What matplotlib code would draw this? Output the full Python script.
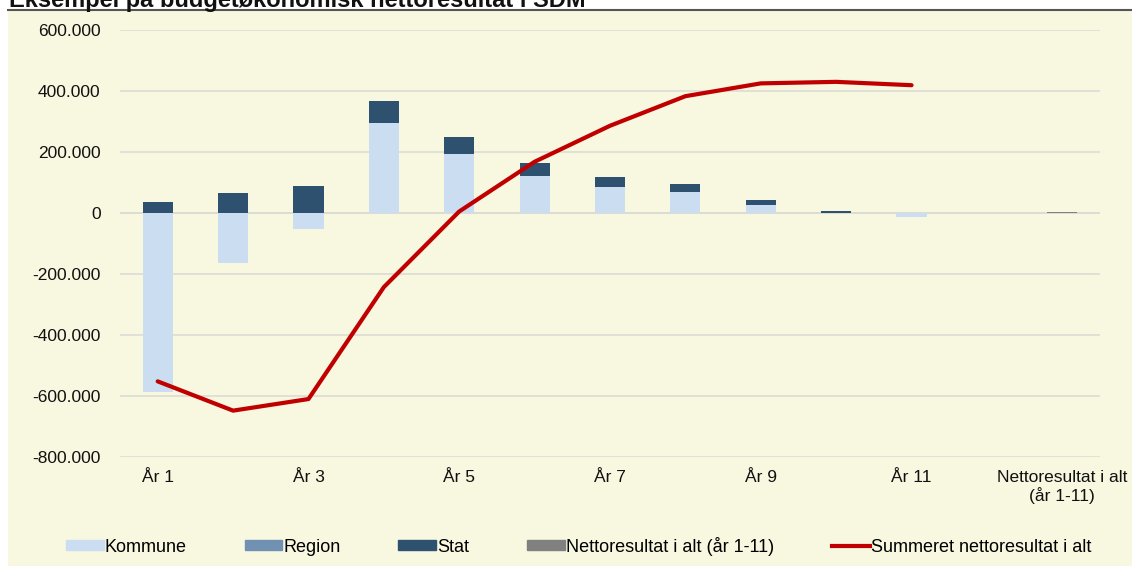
import numpy as np
import matplotlib.pyplot as plt
from matplotlib.patches import Rectangle, Patch
from matplotlib.lines import Line2D

plt.rcParams['font.family'] = ['Liberation Sans', 'DejaVu Sans']

# categories (13 slots, the 12th is empty)
labels = ['År 1', 'År 2', 'År 3', 'År 4', 'År 5', 'År 6', 'År 7', 'År 8', 'År 9', 'År 10',
          'År 11', '', 'Nettoresultat i alt\n(år 1-11)']
kommune = [-588000, -163000, -52000, 295000, 193000, 122000, 84000, 70000, 26000, 1000, -12000, 0, 0]
region = [0] * 13
stat = [36000, 66000, 88000, 72000, 56000, 42000, 33000, 25000, 15000, 4000, 0, 0, 0]
netto = [0] * 12 + [2000]
summeret = [-552000, -648000, -610000, -243000, 5000, 168000, 286000, 383000, 425000, 430000, 419000]

c_kom = '#CADDF1'
c_reg = '#7091B2'
c_stat = '#2E5170'
c_net = '#808080'
c_line = '#C00000'
bg = '#F8F7E0'

fig = plt.figure(figsize=(11.32, 5.70), dpi=100)
fig.patch.set_facecolor('white')
fig.patches.append(Rectangle((8 / 1132, 4 / 570), 1, 1 - 15 / 570, transform=fig.transFigure,
                             facecolor=bg, edgecolor='none', zorder=-5))
fig.add_artist(Line2D([8 / 1132, 1], [1 - 10 / 570, 1 - 10 / 570], transform=fig.transFigure,
                      color='#555555', lw=1.5))
fig.text(9 / 1132, 1 - 7 / 570, 'Eksempel på budgetøkonomisk nettoresultat i SDM',
         fontsize=17, fontweight='bold', va='baseline', ha='left', color='#111111')

ax = fig.add_axes([120 / 1132, 1 - 457 / 570, 980 / 1132, 427 / 570])
ax.set_facecolor('none')
ax.set_zorder(5)

x = np.arange(1, 14)
w = 0.4
kom = np.array(kommune, dtype=float)
st = np.array(stat, dtype=float)
# Excel-like stacking: positives on positives, negatives on negatives
pos_base = np.where(kom > 0, kom, 0)
ax.bar(x, kom, w, color=c_kom, zorder=2)
ax.bar(x, region, w, bottom=pos_base, color=c_reg, zorder=2)
ax.bar(x, st, w, bottom=pos_base, color=c_stat, zorder=2)
ax.bar(x, netto, w, color=c_net, zorder=2)
ax.plot(x[:11], summeret, color=c_line, lw=3, zorder=3, solid_capstyle='round')

ax.set_xlim(0.5, 13.5)
ax.set_ylim(-800000, 600000)
ax.set_yticks(np.arange(-800000, 600001, 200000))
ax.set_yticklabels([f'{v:,.0f}'.replace(',', '.') for v in np.arange(-800000, 600001, 200000)])
ax.set_xticks(x[::2])
ax.set_xticklabels(labels[::2])
ax.tick_params(length=0, labelsize=12.5, colors='#111111')
ax.tick_params(axis='y', pad=14)
ax.tick_params(axis='x', pad=9)
ax.grid(axis='y', color='#DCDCD4', lw=1.2, zorder=1)
ax.set_axisbelow(True)
for s in ax.spines.values():
    s.set_visible(False)
ax.axhline(0, color='#DCDCD4', lw=1.2, zorder=1)

handles = [Patch(color=c_kom), Patch(color=c_reg), Patch(color=c_stat), Patch(color=c_net),
           Line2D([], [], color=c_line, lw=3)]
names = ['Kommune', 'Region', 'Stat', 'Nettoresultat i alt (år 1-11)', 'Summeret nettoresultat i alt']
fig.legend(handles, names, ncol=5, loc='center', bbox_to_anchor=(0.511, 1 - 546 / 570),
           frameon=False, fontsize=13, handlelength=2.1, handleheight=0.5, handletextpad=0.05,
           columnspacing=3.2)

fig.savefig('out.png', dpi=100, facecolor='white')
